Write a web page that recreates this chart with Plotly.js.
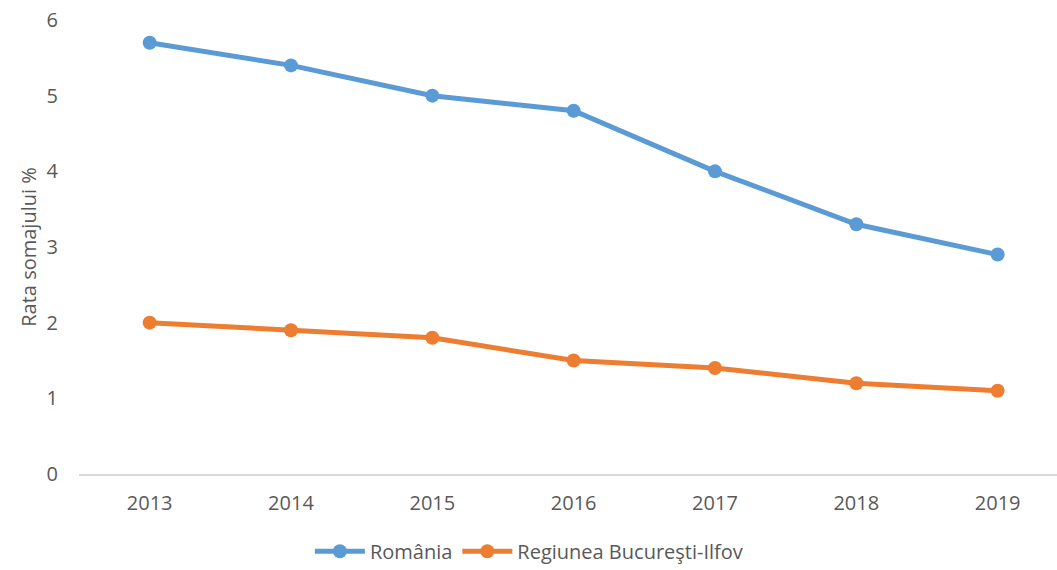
<!DOCTYPE html>
<html>
<head>
<meta charset="utf-8">
<script src="https://cdn.plot.ly/plotly-3.0.1.min.js"></script>
<style>html,body{margin:0;padding:0;background:#fff;}#chart{width:1057px;height:570px;}</style>
</head>
<body>
<div id="chart"></div>
<script>
var years = ["2013", "2014", "2015", "2016", "2017", "2018", "2019"];
var romania = [5.7, 5.4, 5.0, 4.8, 4.0, 3.3, 2.9];
var bucuresti = [2.0, 1.9, 1.8, 1.5, 1.4, 1.2, 1.1];
var seriesNames = ["România", "Regiunea Bucureşti-Ilfov"];
var yTicks = [0, 1, 2, 3, 4, 5, 6];

var font = "Open Sans, sans-serif";
var traces = [
  {x: years, y: romania, name: seriesNames[0], type: "scatter", mode: "lines+markers",
   line: {color: "#5B9BD5", width: 5}, marker: {color: "#5B9BD5", size: 14}},
  {x: years, y: bucuresti, name: seriesNames[1], type: "scatter", mode: "lines+markers",
   line: {color: "#ED7D31", width: 5}, marker: {color: "#ED7D31", size: 14}}
];
var layout = {
  width: 1057, height: 570,
  margin: {l: 79, r: 0, t: 20, b: 96, autoexpand: false},
  paper_bgcolor: "#fff", plot_bgcolor: "#fff",
  font: {family: font, size: 20, color: "#595959"},
  showlegend: true,
  legend: {orientation: "h", x: 0.46, xanchor: "center", y: -0.17, yanchor: "middle",
           font: {family: font, size: 20, color: "#595959"}, itemwidth: 50},
  xaxis: {type: "category", range: [-0.5, 6.42], showgrid: false, zeroline: false, automargin: false,
          showline: true, linecolor: "#D9D9D9", linewidth: 1.5,
          ticks: "outside", ticklen: 10, tickcolor: "rgba(0,0,0,0)",
          tickfont: {family: font, size: 20, color: "#595959"}},
  yaxis: {range: [0, 6], tickvals: yTicks, showgrid: false, zeroline: false, showline: false, automargin: false,
          ticks: "outside", ticklen: 16, tickcolor: "rgba(0,0,0,0)",
          tickfont: {family: font, size: 20, color: "#595959"},
          title: {text: "Rata somajului %", font: {family: font, size: 20, color: "#595959"}, standoff: 4}}
};
Plotly.newPlot("chart", traces, layout, {displayModeBar: false, staticPlot: true});
</script>
</body>
</html>
